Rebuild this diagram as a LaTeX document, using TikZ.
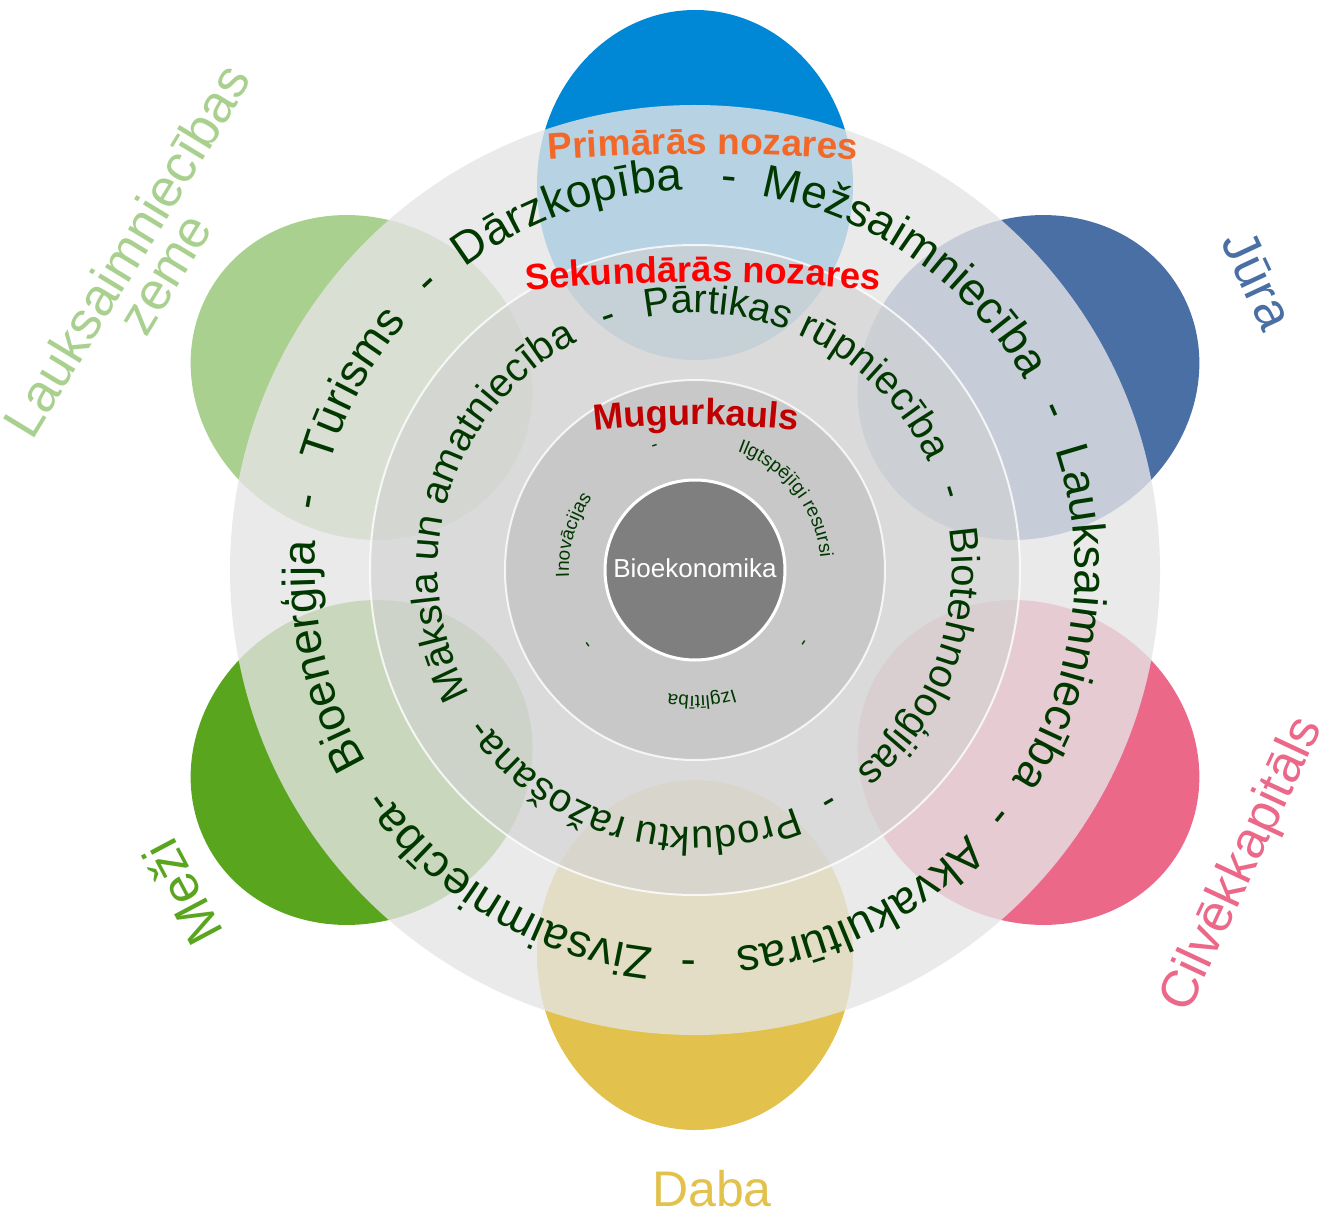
\documentclass[tikz,border=0pt]{standalone}
\usepackage{fontspec}
\setmainfont{Liberation Sans}
\usetikzlibrary{decorations.text}
\definecolor{pBlue}{RGB}{0,136,214}
\definecolor{pSteel}{RGB}{74,111,165}
\definecolor{pPink}{RGB}{236,104,137}
\definecolor{pYellow}{RGB}{226,193,76}
\definecolor{pGreen}{RGB}{90,165,30}
\definecolor{pLight}{RGB}{169,208,142}
\definecolor{ringtxt}{RGB}{0,56,0}
\definecolor{tOrange}{RGB}{242,104,40}
\definecolor{tRed}{RGB}{255,0,0}
\definecolor{tDark}{RGB}{192,0,0}
\definecolor{core}{RGB}{127,127,127}
\definecolor{layA}{gray}{0.90}
\definecolor{layB}{gray}{0.82}
\definecolor{layC}{gray}{0.76}
\newcommand\fRingA{\fontsize{23}{23}\selectfont}
\newcommand\fRingB{\fontsize{20}{20}\selectfont}
\newcommand\fRingC{\fontsize{9.5}{9.5}\selectfont}
\newcommand\fTitle{\bfseries\fontsize{18.5}{18.5}\selectfont}
\newcommand\fTitleB{\bfseries\fontsize{18.2}{18.2}\selectfont}
\newcommand\ringword[6]{%
  \pgfmathsetmacro\rwS{#1+#3}\pgfmathsetmacro\rwE{#1-#3}%
  \path[decorate,decoration={text along path,text align=center,text color=#5,text={|#4|#6}}]
    (\rwS:#2) arc[start angle=\rwS,end angle=\rwE,radius=#2];}
\tikzset{
  petal/.style={fill=#1},
  outlab/.style={inner sep=0pt,font=\fontsize{26}{26}\selectfont},
}
\begin{document}
\begin{tikzpicture}[x=0.5pt,y=0.5pt]
\useasboundingbox (-695,-641) rectangle (637,570);
% petals
\foreach \ang/\col in {90/pBlue,30/pSteel,-30/pPink,-90/pYellow,210/pGreen,150/pLight}
  \fill[petal=\col,rotate=\ang] (385,0) ellipse[x radius=175,y radius=158];
% rings
\fill[layA,opacity=0.8] (0,0) circle[radius=465];
\fill[layB,opacity=0.6] (0,0) circle[radius=325];
\draw[white,line width=1pt,opacity=0.8] (0,0) circle[radius=325];
\fill[layC,opacity=0.7] (0,0) circle[radius=190];
\draw[white,line width=1pt,opacity=0.8] (0,0) circle[radius=190];
\filldraw[fill=core,draw=white,line width=1.5pt] (0,0) circle[radius=90];
\node[text=white,inner sep=0pt,font=\fontsize{13}{13}\selectfont] (bio) at (0,2) {Bioekonomika};
% outer ring words
\ringword{109.5}{380}{40}{\fRingA}{ringtxt}{Dārzkopība}
\ringword{85}{380}{12}{\fRingA}{ringtxt}{-}
\ringword{55}{380}{40}{\fRingA}{ringtxt}{Mežsaimniecība}
\ringword{24}{380}{12}{\fRingA}{ringtxt}{-}
\ringword{-7.5}{380}{40}{\fRingA}{ringtxt}{Lauksaimniecība}
\ringword{-39}{380}{12}{\fRingA}{ringtxt}{-}
\ringword{-64}{380}{40}{\fRingA}{ringtxt}{Akvakultūras}
\ringword{-91}{380}{12}{\fRingA}{ringtxt}{-}
\ringword{-120.5}{380}{40}{\fRingA}{ringtxt}{Zivsaimniecība-}
\ringword{193}{380}{40}{\fRingA}{ringtxt}{Bioenerģija}
\ringword{170}{380}{12}{\fRingA}{ringtxt}{-}
\ringword{151.5}{380}{40}{\fRingA}{ringtxt}{Tūrisms}
\ringword{133}{380}{12}{\fRingA}{ringtxt}{-}
% second ring words
\ringword{63}{257}{60}{\fRingB}{ringtxt}{Pārtikas rūpniecība}
\ringword{17}{257}{15}{\fRingB}{ringtxt}{-}
\ringword{-21}{257}{50}{\fRingB}{ringtxt}{Biotehnoloģijas}
\ringword{-60}{257}{15}{\fRingB}{ringtxt}{-}
\ringword{-106}{257}{60}{\fRingB}{ringtxt}{Produktu ražošana-}
\ringword{163}{257}{60}{\fRingB}{ringtxt}{Māksla un amatniecība}
\ringword{109}{257}{15}{\fRingB}{ringtxt}{-}
% inner ring words
\ringword{38}{126}{45}{\fRingC}{ringtxt}{Ilgtspējīgi resursi}
\ringword{-34}{126}{20}{\fRingC}{ringtxt}{-}
\ringword{-87}{126}{40}{\fRingC}{ringtxt}{Izglītība}
\ringword{215}{126}{20}{\fRingC}{ringtxt}{-}
\ringword{164}{126}{40}{\fRingC}{ringtxt}{Inovācijas}
\ringword{108}{126}{20}{\fRingC}{ringtxt}{-}
% titles
\path[decorate,decoration={text along path,text align=center,text color=tOrange,text={|\fTitle|Primārās nozares}}]
  ([shift={(8,-1584)}]98:2000) arc[start angle=98,end angle=82,radius=2000];
\path[decorate,decoration={text along path,text align=center,text color=tRed,text={|\fTitleB|Sekundārās nozares}}]
  ([shift={(8,-1512)}]100:1800) arc[start angle=100,end angle=80,radius=1800];
\path[decorate,decoration={text along path,text align=center,text color=tDark,text={|\fTitleB|Mugurkauls}}]
  ([shift={(1,-755)}]100:900) arc[start angle=100,end angle=80,radius=900];
% outer labels
\node[outlab,text=pLight,rotate=58.7,align=center,font=\fontsize{26.5}{22}\selectfont] (lz) at (-550,308) {Lauksaimniecības\\zeme};
\node[outlab,text=pSteel,rotate=-65] (jura) at (563,290) {Jūra};
\node[outlab,text=pPink,rotate=65] (cilv) at (548,-295) {Cilvēkkapitāls};
\node[outlab,text=pGreen,rotate=118] (mezi) at (-513,-323) {Meži};
\node[outlab,text=pYellow,anchor=base,font=\fontsize{25}{25}\selectfont] (daba) at (17,-636) {Daba};
\end{tikzpicture}
\end{document}
